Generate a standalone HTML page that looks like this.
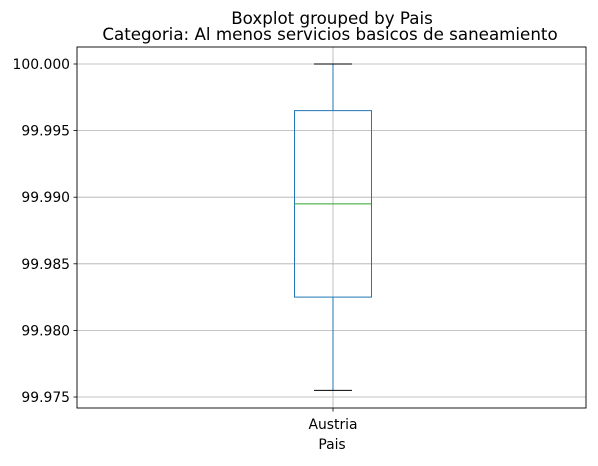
<!DOCTYPE html>
<html><head><meta charset="utf-8"><style>
html,body{margin:0;padding:0;background:#fff;}
svg text{font-family:"DejaVu Sans","Liberation Sans",sans-serif;}
</style></head><body>
<svg id="chart" width="598" height="461" xmlns="http://www.w3.org/2000/svg">
<text x="332" y="24" font-size="16.7" text-anchor="middle">Boxplot grouped by Pais</text>
<text x="330" y="40" font-size="16.7" text-anchor="middle">Categoria: Al menos servicios basicos de saneamiento</text>
<text x="332" y="449" font-size="13.9" text-anchor="middle">Pais</text>
<g id="grid"></g>
<g id="marks"></g>
<rect x="77" y="47" width="509" height="361" fill="none" stroke="#000" stroke-width="0.9"/>
<g id="axes"></g>
</svg>
<script>
const categories = ["Austria"];
const whiskerLow = [99.9755];
const q1 = [99.9825];
const median = [99.9895];
const q3 = [99.9965];
const whiskerHigh = [100.000];
const yTicks = [99.975, 99.980, 99.985, 99.990, 99.995, 100.000];
const yTickLabels = ["99.975","99.980","99.985","99.990","99.995","100.000"];

const NS = "http://www.w3.org/2000/svg";
const L = 77, R = 589, T = 47, B = 408;
function y(v){ return 64 + (100.000 - v) / 0.025 * 333; }
function x(i){ return L + (R - L) * (i + 1) / (categories.length + 1); }
function mk(tag, attrs, parent){
  const e = document.createElementNS(NS, tag);
  for (const k in attrs) e.setAttribute(k, attrs[k]);
  parent.appendChild(e);
  return e;
}
const grid = document.getElementById('grid');
const marks = document.getElementById('marks');
const axes = document.getElementById('axes');

yTicks.forEach((t, i) => {
  const g = mk('line', {x1: 77, x2: 586, y1: y(t), y2: y(t), stroke: '#b0b0b0', 'stroke-width': 0.8}, grid);
  
  
  const tk = mk('line', {x1: 77 - 3.5, x2: 77, y1: y(t), y2: y(t), stroke: '#000', 'stroke-width': 0.8}, axes);
  
  
  const lb = mk('text', {x: 77 - 7, y: y(t) + 5, 'font-size': 13.9, 'text-anchor': 'end'}, axes);
  lb.textContent = yTickLabels[i];
  
  
});

categories.forEach((c, i) => {
  const cx = x(i);
  const vg = mk('line', {x1: cx, x2: cx, y1: T, y2: B, stroke: '#b0b0b0', 'stroke-width': 0.8}, grid);
  
  
  const tk = mk('line', {x1: cx, x2: cx, y1: B, y2: B + 3.5, stroke: '#000', 'stroke-width': 0.8}, axes);
  
  
  const lb = mk('text', {x: cx, y: B + 21, 'font-size': 13.9, 'text-anchor': 'middle'}, axes);
  lb.textContent = c;
  
  

  const bw = 77, cw = 38, col = '#1f77b4';
  const w1 = mk('line', {x1: cx, x2: cx, y1: y(q1[i]), y2: y(whiskerLow[i]), stroke: col, 'stroke-width': 1}, marks);
  
  
  const w2 = mk('line', {x1: cx, x2: cx, y1: y(q3[i]), y2: y(whiskerHigh[i]), stroke: col, 'stroke-width': 1}, marks);
  
  
  const c1 = mk('line', {x1: cx - cw/2, x2: cx + cw/2, y1: y(whiskerLow[i]), y2: y(whiskerLow[i]), stroke: '#000', 'stroke-width': 1}, marks);
  
  
  const c2 = mk('line', {x1: cx - cw/2, x2: cx + cw/2, y1: y(whiskerHigh[i]), y2: y(whiskerHigh[i]), stroke: '#000', 'stroke-width': 1}, marks);
  
  
  const bx = mk('rect', {x: cx - bw/2, y: y(q3[i]), width: bw, height: y(q1[i]) - y(q3[i]), fill: 'none', stroke: col, 'stroke-width': 1}, marks);
  
  
  const md = mk('line', {x1: cx - bw/2, x2: cx + bw/2, y1: y(median[i]), y2: y(median[i]), stroke: '#2ca02c', 'stroke-width': 1}, marks);
  
  
});
</script>
</body></html>
